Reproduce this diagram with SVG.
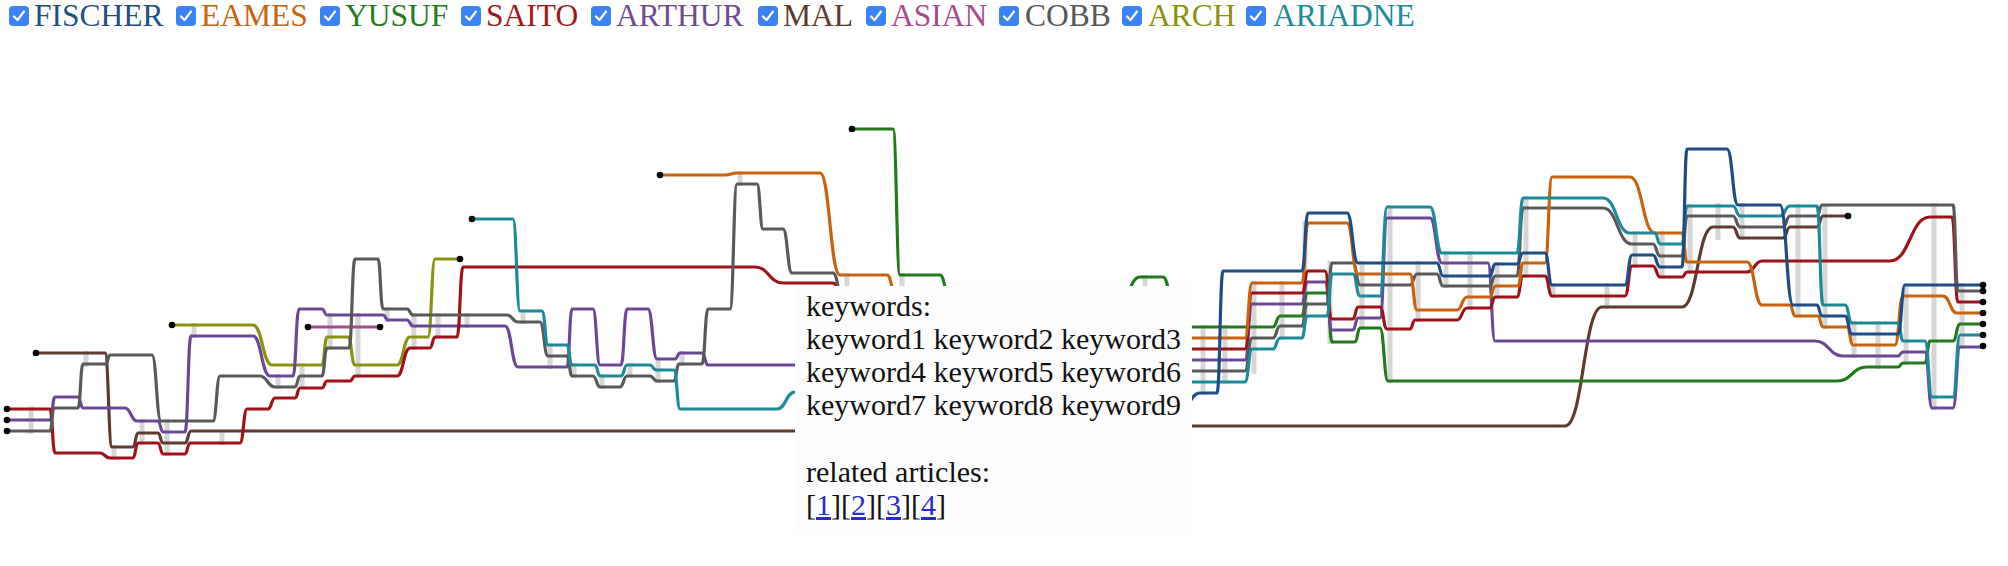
<svg xmlns="http://www.w3.org/2000/svg" width="2008" height="566" viewBox="0 0 2008 566">
<style>
.ln{fill:none;stroke-width:3.2;stroke-linejoin:round;stroke-linecap:butt}
.bar{fill:#d6d6d6}
.dot{fill:#000}
.lg{font-family:"Liberation Serif","Times New Roman",serif;font-size:31.5px}
.cb{fill:#3a82f7}
.ck{fill:none;stroke:#fff;stroke-width:2.2;stroke-linecap:round;stroke-linejoin:round}
.tt{font-family:"Liberation Serif","Times New Roman",serif;font-size:30px;fill:#111}
.lk{fill:#2a2ad0;text-decoration:underline}
</style>
<rect width="2008" height="566" fill="#fff"/>
<g id="scenes">
<rect class="bar" x="28.5" y="406" width="5" height="28"/>
<rect class="bar" x="83.5" y="351" width="5" height="16"/>
<rect class="bar" x="111.5" y="445" width="5" height="15"/>
<rect class="bar" x="139.5" y="419" width="5" height="26"/>
<rect class="bar" x="164.5" y="419" width="5" height="37"/>
<rect class="bar" x="191.5" y="323" width="5" height="15"/>
<rect class="bar" x="219.5" y="430" width="5" height="15"/>
<rect class="bar" x="275.5" y="374" width="5" height="15"/>
<rect class="bar" x="299.5" y="363" width="5" height="26"/>
<rect class="bar" x="327.5" y="313" width="5" height="37"/>
<rect class="bar" x="355.5" y="313" width="5" height="65"/>
<rect class="bar" x="384.5" y="307" width="5" height="15"/>
<rect class="bar" x="411.5" y="313" width="5" height="37"/>
<rect class="bar" x="435.5" y="313" width="5" height="26"/>
<rect class="bar" x="464.5" y="313" width="5" height="15"/>
<rect class="bar" x="520.5" y="309" width="5" height="15"/>
<rect class="bar" x="547.5" y="343" width="5" height="26"/>
<rect class="bar" x="571.5" y="363" width="5" height="15"/>
<rect class="bar" x="599.5" y="374" width="5" height="15"/>
<rect class="bar" x="627.5" y="363" width="5" height="15"/>
<rect class="bar" x="655.5" y="357" width="5" height="26"/>
<rect class="bar" x="679.5" y="351" width="5" height="15"/>
<rect class="bar" x="737.5" y="171" width="5" height="15"/>
<rect class="bar" x="844.5" y="273" width="5" height="14"/>
<rect class="bar" x="899.5" y="273" width="5" height="14"/>
<rect class="bar" x="1142.5" y="275" width="5" height="12"/>
<rect class="bar" x="1200.5" y="325" width="5" height="70"/>
<rect class="bar" x="1222.5" y="325" width="5" height="59"/>
<rect class="bar" x="1251.5" y="281" width="5" height="93"/>
<rect class="bar" x="1279.5" y="281" width="5" height="59"/>
<rect class="bar" x="1302.5" y="221" width="5" height="97"/>
<rect class="bar" x="1327.5" y="261" width="5" height="83"/>
<rect class="bar" x="1359.5" y="261" width="5" height="69"/>
<rect class="bar" x="1387.5" y="205" width="5" height="178"/>
<rect class="bar" x="1415.5" y="261" width="5" height="61"/>
<rect class="bar" x="1443.5" y="251" width="5" height="37"/>
<rect class="bar" x="1467.5" y="251" width="5" height="59"/>
<rect class="bar" x="1494.5" y="262" width="5" height="37"/>
<rect class="bar" x="1523.5" y="196" width="5" height="82"/>
<rect class="bar" x="1550.5" y="283" width="5" height="15"/>
<rect class="bar" x="1604.5" y="283" width="5" height="26"/>
<rect class="bar" x="1632.5" y="231" width="5" height="37"/>
<rect class="bar" x="1659.5" y="231" width="5" height="48"/>
<rect class="bar" x="1687.5" y="204" width="5" height="70"/>
<rect class="bar" x="1715.5" y="203" width="5" height="37"/>
<rect class="bar" x="1739.5" y="203" width="5" height="37"/>
<rect class="bar" x="1795.5" y="204" width="5" height="114"/>
<rect class="bar" x="1822.5" y="204" width="5" height="125"/>
<rect class="bar" x="1851.5" y="321" width="5" height="37"/>
<rect class="bar" x="1875.5" y="321" width="5" height="48"/>
<rect class="bar" x="1903.5" y="283" width="5" height="82"/>
<rect class="bar" x="1931.5" y="203" width="5" height="207"/>
<rect class="bar" x="1959.5" y="283" width="5" height="66"/>
</g>
<g id="connectors">
<g id="line-mal">
<path class="ln" stroke="#5e3a30" d="M36,353 H105 C108.5,353 108.5,447 112,447 H133 C135.5,447 135.5,433 138,433 H158 C160.5,433 160.5,443 163,443 H185 C188,443 188,431 191,431 H1150 C1165,431 1165,426 1180,426 H1565 C1583.5,426 1583.5,307 1602,307 H1682 C1697.5,307 1697.5,227 1713,227 H1733 C1736.5,227 1736.5,238 1740,238 H1783 C1786.5,238 1786.5,227 1790,227 H1817 C1820,227 1820,216 1823,216 H1848"/>
</g>
<g id="line-yusuf">
<path class="ln" stroke="#217a1c" d="M852,129 H893 C896.5,129 896.5,275 900,275 H940 C945,275 945,300 950,300 H1120 C1130,300 1130,277 1140,277 H1163 C1169,277 1169,310 1175,310 H1180 C1186,310 1186,327 1192,327 H1273 C1276.5,327 1276.5,316 1280,316 H1302 C1304.5,316 1304.5,293 1307,293 H1327 C1329.5,293 1329.5,342 1332,342 H1355 C1357.5,342 1357.5,328 1360,328 H1380 C1384,328 1384,381 1388,381 H1837 C1852,381 1852,367 1867,367 H1898 C1900.5,367 1900.5,363 1903,363 H1925 C1927.5,363 1927.5,341 1930,341 H1953 C1956.5,341 1956.5,324 1960,324 H1983"/>
</g>
<g id="line-arch">
<path class="ln" stroke="#8b9212" d="M172,325 H253 C262.5,325 262.5,365 272,365 H322 C324.5,365 324.5,337 327,337 H348 C351.5,337 351.5,365 355,365 H397 C403.5,365 403.5,337 410,337 H428 C431.5,337 431.5,259 435,259 H460"/>
</g>
<g id="line-asian">
<path class="ln" stroke="#a84b90" d="M308,327 H380"/>
</g>
<g id="line-arthur">
<path class="ln" stroke="#6a4896" d="M7,420 H50 C52.5,420 52.5,397 55,397 H78 C80.5,397 80.5,408 83,408 H125 C131,408 131,421 137,421 H158 C160.5,421 160.5,432 163,432 H185 C188,432 188,336 191,336 H253 C261.5,336 261.5,376 270,376 H293 C296,376 296,309 299,309 H322 C324.5,309 324.5,315 327,315 H383 C385.5,315 385.5,320 388,320 H407 C410,320 410,326 413,326 H505 C511.5,326 511.5,367 518,367 H567 C569.5,367 569.5,309 572,309 H593 C596.5,309 596.5,365 600,365 H621 C624,365 624,309 627,309 H648 C652.5,309 652.5,359 657,359 H675 C677.5,359 677.5,353 680,353 H702 C705,353 705,365 708,365 H1150 C1165,365 1165,360 1180,360 H1245 C1248.5,360 1248.5,304 1252,304 H1302 C1304.5,304 1304.5,282 1307,282 H1325 C1328.5,282 1328.5,330 1332,330 H1353 C1355.5,330 1355.5,318 1358,318 H1380 C1383.5,318 1383.5,218 1387,218 H1430 C1436,218 1436,263 1442,263 H1488 C1491.5,263 1491.5,341 1495,341 H1815 C1829,341 1829,356 1843,356 H1898 C1900.5,356 1900.5,352 1903,352 H1925 C1928.5,352 1928.5,408 1932,408 H1953 C1956.5,408 1956.5,347 1960,347 H1983"/>
</g>
<g id="line-saito">
<path class="ln" stroke="#9d1219" d="M7,409 H50 C52.5,409 52.5,453 55,453 H100 C105,453 105,458 110,458 H133 C135.5,458 135.5,443 138,443 H158 C160.5,443 160.5,454 163,454 H185 C187.5,454 187.5,443 190,443 H240 C243.5,443 243.5,409 247,409 H268 C271.5,409 271.5,398 275,398 H295 C297.5,398 297.5,388 300,388 H322 C324.5,388 324.5,381 327,381 H350 C352.5,381 352.5,376 355,376 H397 C403.5,376 403.5,348 410,348 H430 C432.5,348 432.5,337 435,337 H457 C460,337 460,267 463,267 H755 C769,267 769,283 783,283 H833 C838,283 838,300 843,300 H1150 C1165,300 1165,349 1180,349 H1245 C1248.5,349 1248.5,293 1252,293 H1302 C1305,293 1305,271 1308,271 H1325 C1328.5,271 1328.5,319 1332,319 H1353 C1355.5,319 1355.5,307 1358,307 H1380 C1383.5,307 1383.5,329 1387,329 H1410 C1412.5,329 1412.5,320 1415,320 H1457 C1462,320 1462,308 1467,308 H1490 C1492.5,308 1492.5,297 1495,297 H1517 C1520,297 1520,276 1523,276 H1545 C1548.5,276 1548.5,296 1552,296 H1625 C1628.5,296 1628.5,266 1632,266 H1653 C1656.5,266 1656.5,277 1660,277 H1682 C1684.5,277 1684.5,272 1687,272 H1747 C1754.5,272 1754.5,261 1762,261 H1890 C1910,261 1910,217 1930,217 H1952 C1955,217 1955,302 1958,302 H1983"/>
</g>
<g id="line-cobb">
<path class="ln" stroke="#595959" d="M7,431 H50 C52,431 52,408 54,408 H78 C80.5,408 80.5,364 83,364 H106 C108,364 108,355 110,355 H152 C156.5,355 156.5,421 161,421 H213 C216.5,421 216.5,376 220,376 H260 C267.5,376 267.5,387 275,387 H295 C297.5,387 297.5,376 300,376 H322 C324.5,376 324.5,348 327,348 H349 C352,348 352,259 355,259 H378 C380.5,259 380.5,309 383,309 H407 C410,309 410,315 413,315 H507 C512.5,315 512.5,322 518,322 H540 C544,322 544,356 548,356 H567 C569.5,356 569.5,376 572,376 H593 C596.5,376 596.5,387 600,387 H620 C623.5,387 623.5,376 627,376 H650 C653.5,376 653.5,381 657,381 H674 C676.5,381 676.5,364 679,364 H702 C705,364 705,309 708,309 H730 C733.5,309 733.5,184 737,184 H757 C760,184 760,229 763,229 H783 C787.5,229 787.5,273 792,273 H833 C838,273 838,300 843,300 H1150 C1165,300 1165,371 1180,371 H1245 C1248.5,371 1248.5,338 1252,338 H1273 C1276.5,338 1276.5,326 1280,326 H1302 C1304.5,326 1304.5,304 1307,304 H1327 C1329.5,304 1329.5,263 1332,263 H1353 C1356.5,263 1356.5,285 1360,285 H1410 C1413.5,285 1413.5,274 1417,274 H1437 C1440,274 1440,286 1443,286 H1490 C1492.5,286 1492.5,276 1495,276 H1517 C1520,276 1520,208 1523,208 H1603 C1617.5,208 1617.5,244 1632,244 H1653 C1656.5,244 1656.5,256 1660,256 H1682 C1684.5,256 1684.5,216 1687,216 H1733 C1736.5,216 1736.5,227 1740,227 H1783 C1786.5,227 1786.5,216 1790,216 H1817 C1819.5,216 1819.5,205 1822,205 H1953 C1955.5,205 1955.5,291 1958,291 H1983"/>
</g>
<g id="line-eames">
<path class="ln" stroke="#c9620e" d="M660,175 H725 C731,175 731,173 737,173 H820 C830,173 830,275 840,275 H887 C892,275 892,300 897,300 H1150 C1165,300 1165,338 1180,338 H1245 C1248.5,338 1248.5,283 1252,283 H1302 C1305,283 1305,223 1308,223 H1347 C1352.5,223 1352.5,274 1358,274 H1410 C1413.5,274 1413.5,310 1417,310 H1457 C1462,310 1462,297 1467,297 H1490 C1492.5,297 1492.5,286 1495,286 H1518 C1520.5,286 1520.5,263 1523,263 H1545 C1548.5,263 1548.5,177 1552,177 H1630 C1642.5,177 1642.5,233 1655,233 H1682 C1684.5,233 1684.5,262 1687,262 H1747 C1754.5,262 1754.5,305 1762,305 H1790 C1792.5,305 1792.5,316 1795,316 H1818 C1820.5,316 1820.5,327 1823,327 H1847 C1850,327 1850,345 1853,345 H1895 C1899,345 1899,296 1903,296 H1943 C1950,296 1950,313 1957,313 H1983"/>
</g>
<g id="line-ariadne">
<path class="ln" stroke="#1d8a9a" d="M472,219 H513 C516.5,219 516.5,311 520,311 H542 C545,311 545,345 548,345 H567 C569.5,345 569.5,365 572,365 H595 C597.5,365 597.5,376 600,376 H621 C624,376 624,365 627,365 H650 C653,365 653,370 656,370 H674 C677,370 677,409 680,409 H777 C786,409 786,392 795,392 H1150 C1165,392 1165,382 1180,382 H1245 C1248.5,382 1248.5,349 1252,349 H1273 C1276.5,349 1276.5,338 1280,338 H1302 C1304.5,338 1304.5,316 1307,316 H1327 C1329.5,316 1329.5,274 1332,274 H1353 C1356.5,274 1356.5,296 1360,296 H1380 C1383.5,296 1383.5,207 1387,207 H1430 C1436,207 1436,253 1442,253 H1517 C1520,253 1520,198 1523,198 H1603 C1616.5,198 1616.5,233 1630,233 H1655 C1657.5,233 1657.5,244 1660,244 H1682 C1684.5,244 1684.5,206 1687,206 H1733 C1736.5,206 1736.5,216 1740,216 H1780 C1785,216 1785,206 1790,206 H1817 C1820,206 1820,305 1823,305 H1845 C1848.5,305 1848.5,323 1852,323 H1898 C1900.5,323 1900.5,341 1903,341 H1925 C1928.5,341 1928.5,397 1932,397 H1953 C1956.5,397 1956.5,335 1960,335 H1983"/>
</g>
<g id="line-fischer">
<path class="ln" stroke="#1d4d84" d="M1170,420 C1188,420 1188,393 1200,393 H1217 C1220,393 1220,271 1223,271 H1302 C1305,271 1305,213 1308,213 H1347 C1352.5,213 1352.5,263 1358,263 H1437 C1440,263 1440,276 1443,276 H1490 C1492.5,276 1492.5,264 1495,264 H1517 C1520,264 1520,253 1523,253 H1545 C1548.5,253 1548.5,285 1552,285 H1625 C1628.5,285 1628.5,255 1632,255 H1653 C1656.5,255 1656.5,267 1660,267 H1682 C1684.5,267 1684.5,149 1687,149 H1727 C1732.5,149 1732.5,205 1738,205 H1780 C1786.5,205 1786.5,305 1793,305 H1817 C1819.5,305 1819.5,316 1822,316 H1845 C1848.5,316 1848.5,334 1852,334 H1898 C1901.5,334 1901.5,285 1905,285 H1983"/>
</g>
</g>
<g id="dots">
<circle class="dot" cx="7" cy="409" r="3.3"/>
<circle class="dot" cx="7" cy="420" r="3.3"/>
<circle class="dot" cx="7" cy="431" r="3.3"/>
<circle class="dot" cx="36" cy="353" r="3.3"/>
<circle class="dot" cx="172" cy="325" r="3.3"/>
<circle class="dot" cx="308" cy="327" r="3.3"/>
<circle class="dot" cx="380" cy="327" r="3.3"/>
<circle class="dot" cx="460" cy="259" r="3.3"/>
<circle class="dot" cx="472" cy="219" r="3.3"/>
<circle class="dot" cx="660" cy="175" r="3.3"/>
<circle class="dot" cx="852" cy="129" r="3.3"/>
<circle class="dot" cx="1848" cy="216" r="3.3"/>
<circle class="dot" cx="1983" cy="285" r="3.3"/>
<circle class="dot" cx="1983" cy="291" r="3.3"/>
<circle class="dot" cx="1983" cy="302" r="3.3"/>
<circle class="dot" cx="1983" cy="313" r="3.3"/>
<circle class="dot" cx="1983" cy="324" r="3.3"/>
<circle class="dot" cx="1983" cy="335" r="3.3"/>
<circle class="dot" cx="1983" cy="346" r="3.3"/>
</g>
<g id="tooltip">
<rect x="795" y="286" width="397" height="245" fill="#fdfdfd"/>
<text class="tt" x="806" y="316">keywords:</text>
<text class="tt" x="806" y="349">keyword1 keyword2 keyword3</text>
<text class="tt" x="806" y="382">keyword4 keyword5 keyword6</text>
<text class="tt" x="806" y="415">keyword7 keyword8 keyword9</text>
<text class="tt" x="806" y="482">related articles:</text>
<text class="tt" x="806" y="515">[<tspan class="lk">1</tspan>][<tspan class="lk">2</tspan>][<tspan class="lk">3</tspan>][<tspan class="lk">4</tspan>]</text>
</g>
<g id="legend">
<g id="legend-fischer"><rect class="cb" x="9" y="6" width="20" height="20" rx="4"/><path class="ck" d="M14,16.5 L17.5,20 L24,11.5"/><text class="lg" x="34" y="26" fill="#1f4f82">FISCHER</text></g>
<g id="legend-eames"><rect class="cb" x="176" y="6" width="20" height="20" rx="4"/><path class="ck" d="M181,16.5 L184.5,20 L191,11.5"/><text class="lg" x="201" y="26" fill="#c8640c">EAMES</text></g>
<g id="legend-yusuf"><rect class="cb" x="320" y="6" width="20" height="20" rx="4"/><path class="ck" d="M325,16.5 L328.5,20 L335,11.5"/><text class="lg" x="345" y="26" fill="#247a22">YUSUF</text></g>
<g id="legend-saito"><rect class="cb" x="461" y="6" width="20" height="20" rx="4"/><path class="ck" d="M466,16.5 L469.5,20 L476,11.5"/><text class="lg" x="486" y="26" fill="#a0171d">SAITO</text></g>
<g id="legend-arthur"><rect class="cb" x="591" y="6" width="20" height="20" rx="4"/><path class="ck" d="M596,16.5 L599.5,20 L606,11.5"/><text class="lg" x="616" y="26" fill="#6b4c94">ARTHUR</text></g>
<g id="legend-mal"><rect class="cb" x="758" y="6" width="20" height="20" rx="4"/><path class="ck" d="M763,16.5 L766.5,20 L773,11.5"/><text class="lg" x="783" y="26" fill="#5b3a2f">MAL</text></g>
<g id="legend-asian"><rect class="cb" x="866" y="6" width="20" height="20" rx="4"/><path class="ck" d="M871,16.5 L874.5,20 L881,11.5"/><text class="lg" x="891" y="26" fill="#a64c8d">ASIAN</text></g>
<g id="legend-cobb"><rect class="cb" x="999" y="6" width="20" height="20" rx="4"/><path class="ck" d="M1004,16.5 L1007.5,20 L1014,11.5"/><text class="lg" x="1025" y="26" fill="#575757">COBB</text></g>
<g id="legend-arch"><rect class="cb" x="1122" y="6" width="20" height="20" rx="4"/><path class="ck" d="M1127,16.5 L1130.5,20 L1137,11.5"/><text class="lg" x="1148" y="26" fill="#8a9110">ARCH</text></g>
<g id="legend-ariadne"><rect class="cb" x="1246" y="6" width="20" height="20" rx="4"/><path class="ck" d="M1251,16.5 L1254.5,20 L1261,11.5"/><text class="lg" x="1273" y="26" fill="#208b99">ARIADNE</text></g>
</g>
</svg>
